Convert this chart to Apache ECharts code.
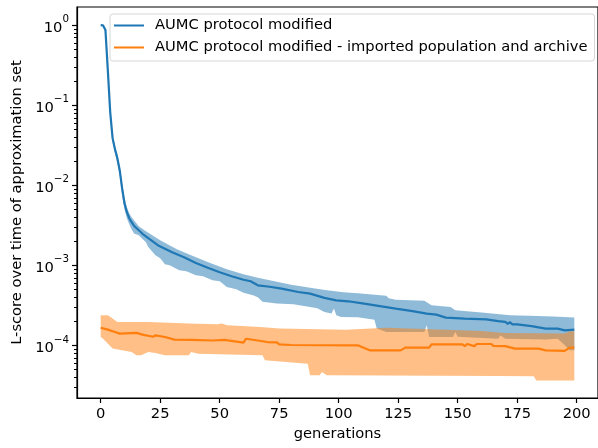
<!DOCTYPE html>
<html>
<head>
<meta charset="utf-8">
<script src="https://cdn.jsdelivr.net/npm/echarts@6/dist/echarts.min.js"></script>
<style>
  html, body { margin: 0; padding: 0; background: #fff; }
  #chart { width: 598px; height: 448px; }
</style>
</head>
<body>
<div id="chart"></div>
<script>
// Run names
const seriesNames = [
  'AUMC protocol modified',
  'AUMC protocol modified - imported population and archive'
];

// [generation, L-score] — mean run, upper and lower envelope
const blueMean = [
  [0,1.0],[1,0.99],[2,0.866],[3,0.274],[4,0.0818],[5,0.0387],[6,0.0282],[7,0.0218],
  [8,0.0154],[9,0.00918],[10,0.00596],[11,0.0046],[12,0.00387],[13,0.00345],[14,0.00312],
  [16,0.00274],[18,0.00241],[20,0.00218],[22,0.00197],[24,0.00178],[27,0.00161],[30,0.00145],
  [35,0.00126],[40,0.00107],[45,0.00093],[50,0.000818],[55,0.000729],[60,0.000659],[63,0.000631],
  [66,0.000562],[71,0.000539],[76,0.000511],[83,0.000464],[88,0.000443],[94,0.000392],
  [99,0.000365],[104,0.000355],[110,0.000335],[118,0.000307],[124,0.000288],[131,0.000268],
  [137,0.000249],[141,0.000242],[145,0.000222],[153,0.000216],[162,0.000211],[167,0.000201],
  [170,0.000196],[171,0.000186],[172,0.000194],[173,0.000183],[175,0.000183],[181,0.000174],
  [187,0.000162],[192,0.000162],[195,0.000154],[199,0.000157]
];
const blueUpper = [
  [0,1.0],[1,1.0],[2,0.917],[3,0.316],[4,0.0919],[5,0.0422],[6,0.0309],[7,0.0237],[8,0.0173],
  [9,0.0106],[10,0.00692],[11,0.0053],[12,0.00447],[13,0.00398],[14,0.00365],[16,0.00307],
  [19,0.00266],[25,0.00205],[32,0.00158],[39,0.0013],[46,0.00107],[53,0.000891],[60,0.000772],
  [66,0.000698],[74,0.000622],[80,0.00057],[88,0.000524],[95,0.000487],[102,0.00046],
  [108,0.000447],[120,0.000416],[121,0.000387],[124,0.00037],[136,0.00036],[139,0.000316],
  [147,0.000301],[149,0.000274],[160,0.000257],[172,0.000238],[180,0.000234],[190,0.00023],
  [199,0.000222]
];
const blueLower = [
  [0,1.0],[1,0.97],[2,0.794],[3,0.231],[4,0.0689],[5,0.0345],[6,0.0251],[7,0.0188],[8,0.013],
  [9,0.0075],[10,0.00501],[11,0.00387],[12,0.00325],[13,0.00282],[14,0.0025],[16,0.00237],
  [19,0.00194],[20,0.00169],[23,0.00133],[25,0.00122],[27,0.00103],[29,0.001],[33,0.000866],
  [36,0.000841],[40,0.00075],[43,0.000729],[47,0.000649],[50,0.000631],[53,0.000536],
  [57,0.000501],[60,0.000453],[64,0.000422],[66,0.000398],[68,0.00035],[74,0.000332],
  [81,0.000325],[88,0.000301],[91,0.00029],[94,0.000261],[97,0.000249],[98,0.000288],
  [99,0.000237],[101,0.000226],[108,0.000224],[115,0.000209],[116,0.000162],[120,0.000147],
  [136,0.000147],[137,0.000178],[138,0.000127],[148,0.000127],[149,0.000147],[150,0.000128],
  [167,0.000121],[168,0.000133],[170,0.000121],[187,0.000118],[192,0.000121],[195,0.0001],
  [197,0.0000866],[199,0.0000866]
];

const orangeMean = [
  [0,0.000166],[3,0.000157],[6,0.000147],[8,0.00014],[15,0.000143],[18,0.000135],[22,0.000128],
  [23,0.000133],[27,0.000127],[31,0.000118],[38,0.000117],[47,0.000115],[52,0.000117],
  [60,0.000108],[61,0.000121],[66,0.000115],[70,0.00011],[74,0.000109],[75,0.000103],
  [80,0.000101],[108,0.0001],[113,0.0000866],[126,0.0000866],[128,0.0000936],[138,0.0000936],
  [139,0.000103],[152,0.000103],[153,0.0000977],[154,0.000104],[157,0.0000977],[158,0.000104],
  [164,0.000104],[165,0.0000986],[170,0.0000977],[174,0.000091],[184,0.000091],[187,0.0000866],
  [195,0.0000853],[197,0.0000936],[199,0.0000936]
];
const orangeUpper = [
  [0,0.000237],[3,0.000237],[5,0.000216],[7,0.000196],[20,0.000196],[37,0.000187],[49,0.000183],
  [51,0.000188],[53,0.000178],[67,0.000169],[75,0.000162],[103,0.000157],[120,0.000166],
  [145,0.000157],[160,0.000151],[170,0.000143],[195,0.000141],[197,0.00015],[199,0.00015]
];
const orangeLower = [
  [0,0.000127],[1,0.000121],[5,0.000091],[9,0.0000866],[13,0.0000824],[15,0.000075],[17,0.000075],
  [20,0.0000824],[23,0.0000801],[27,0.000075],[37,0.000075],[38,0.0000824],[41,0.0000787],
  [68,0.000075],[69,0.000065],[78,0.0000618],[87,0.000059],[88,0.0000422],[92,0.0000422],
  [93,0.0000463],[95,0.0000422],[167,0.0000413],[182,0.000041],[183,0.0000365],[199,0.0000365]
];

// Axis ticks
const xTicks = [0, 25, 50, 75, 100, 125, 150, 175, 200];
const yTicks = [1e-4, 1e-3, 1e-2, 1e-1, 1];
const yMinorTicks = [];
for (let k = -5; k <= 0; k++) {
  for (let m = 2; m <= 9; m++) {
    const v = m * Math.pow(10, k);
    if (v > 2.2e-5 && v < 1.68) yMinorTicks.push(Number(v.toPrecision(3)));
  }
}

const FONT = 'DejaVu Sans';
const FS = 14.7;
const BLUE = '#1f77b4';
const ORANGE = '#ff7f0e';
const X_MIN = -9.95, X_MAX = 208.95;
const Y_MIN = 2.2e-5, Y_MAX = 1.68;
const MINOR_LEN = 3;

// Shaded envelope drawn as one polygon through the axes' scales
function band(upper, lower, fill) {
  return {
    type: 'custom',
    coordinateSystem: 'cartesian2d',
    silent: true,
    clip: true,
    data: [upper[0]],
    encode: { x: 0, y: 1 },
    renderItem: function (params, api) {
      const pts = upper.map(p => api.coord(p))
        .concat(lower.slice().reverse().map(p => api.coord(p)));
      return { type: 'polygon', shape: { points: pts }, style: { fill: fill } };
    }
  };
}

// Short outward marks on the left spine for the minor log ticks
const minorTickSeries = {
  type: 'custom',
  coordinateSystem: 'cartesian2d',
  silent: true,
  clip: false,
  z: 10,
  data: yMinorTicks.map(v => [X_MIN, v]),
  encode: { x: 0, y: 1 },
  renderItem: function (params, api) {
    const p = api.coord([api.value(0), api.value(1)]);
    const y = Math.round(p[1]) + 0.5;
    return {
      type: 'line',
      shape: { x1: p[0] - MINOR_LEN, y1: y, x2: p[0], y2: y },
      style: { stroke: '#000', lineWidth: 1 }
    };
  }
};

function supLabel(v) {
  const e = Math.round(Math.log10(v));
  const s = e < 0 ? '\u2212' + (-e) : String(e);
  return '{b|10}{s|' + s + '}';
}

const chart = echarts.init(document.getElementById('chart'), null, { renderer: 'canvas' });
chart.setOption({
  animation: false,
  backgroundColor: '#fff',
  textStyle: { fontFamily: FONT },
  grid: {
    left: 77, right: -5, top: 7, bottom: 50,
    show: true, borderColor: '#000', borderWidth: 1.2, backgroundColor: 'transparent'
  },
  legend: {
    orient: 'vertical',
    left: 110, top: 14,
    padding: [3, 7, 5, 4],
    itemGap: 5,
    itemWidth: 30,
    itemHeight: 2,
    icon: 'rect',
    backgroundColor: 'rgba(255,255,255,0.8)',
    borderColor: '#d6d6d6',
    borderWidth: 1,
    borderRadius: 3,
    textStyle: { fontFamily: FONT, fontSize: FS, color: '#000', lineHeight: 17, padding: [0, 0, 0, 6] },
    data: seriesNames
  },
  xAxis: {
    type: 'value',
    min: X_MIN, max: X_MAX,
    name: 'generations',
    nameLocation: 'middle',
    nameGap: 29,
    nameTextStyle: { fontFamily: FONT, fontSize: FS, color: '#000' },
    splitLine: { show: false },
    axisLine: { show: true, onZero: false, lineStyle: { color: '#000', width: 1.2 } },
    axisTick: { show: true, customValues: xTicks, length: 5, lineStyle: { color: '#000', width: 1.2 } },
    axisLabel: { customValues: xTicks, margin: 9, fontFamily: FONT, fontSize: FS, color: '#000' }
  },
  yAxis: {
    type: 'log', logBase: 10,
    min: Y_MIN, max: Y_MAX,
    name: 'L-score over time of approximation set',
    nameLocation: 'middle',
    nameGap: 50,
    nameTextStyle: { fontFamily: FONT, fontSize: FS, color: '#000' },
    splitLine: { show: false },
    axisLine: { show: true, onZero: false, lineStyle: { color: '#000', width: 1.2 } },
    axisTick: { show: true, customValues: yTicks, length: 5, lineStyle: { color: '#000', width: 1.2 } },
    axisLabel: {
      customValues: yTicks, margin: 8, formatter: supLabel,
      rich: {
        b: { fontFamily: FONT, fontSize: FS, color: '#000', lineHeight: 21, verticalAlign: 'bottom' },
        s: { fontFamily: FONT, fontSize: 10.3, color: '#000', lineHeight: 12, verticalAlign: 'top' }
      }
    }
  },
  series: [
    band(blueUpper, blueLower, 'rgba(31,119,180,0.5)'),
    {
      name: seriesNames[0], type: 'line', data: blueMean, showSymbol: false, symbol: 'none',
      lineStyle: { color: BLUE, width: 2.2 }, itemStyle: { color: BLUE }, z: 3
    },
    band(orangeUpper, orangeLower, 'rgba(255,127,14,0.5)'),
    {
      name: seriesNames[1], type: 'line', data: orangeMean, showSymbol: false, symbol: 'none',
      lineStyle: { color: ORANGE, width: 2.2 }, itemStyle: { color: ORANGE }, z: 3
    },
    minorTickSeries
  ]
});
</script>
</body>
</html>
